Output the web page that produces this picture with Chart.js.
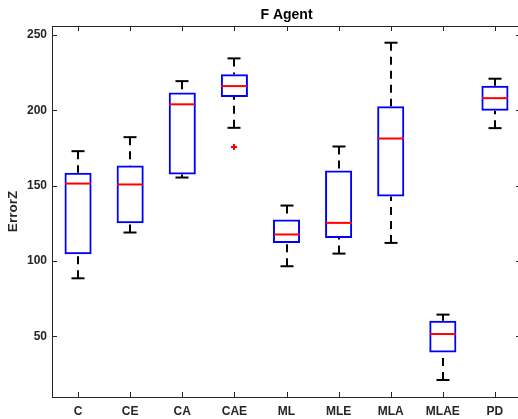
<!DOCTYPE html>
<html><head><meta charset="utf-8">
<script src="https://cdn.jsdelivr.net/npm/chart.js@4.4.0/dist/chart.umd.min.js"></script>
<style>html,body{margin:0;padding:0;background:#fff;overflow:hidden;width:518px;height:419px}
#wrap{width:523px;height:419px}</style></head><body>
<div id="wrap"><canvas id="c" width="523" height="419"></canvas></div>
<script>
const categories = ['C','CE','CA','CAE','ML','MLE','MLA','MLAE','PD'];
const lowerWhisker = [88.5,118.9,155.4,188.4,96.5,104.9,112.0,21.0,188.2];
const q1 = [104.5,125.1,157.4,208.8,112.0,115.3,142.8,39.2,199.7];
const medians = [151.4,150.8,204.0,216.1,117.6,125.3,181.3,51.5,208.1];
const q3 = [158.5,163.4,211.9,223.9,127.5,160.1,202.8,60.4,216.3];
const upperWhisker = [172.9,182.2,219.4,234.5,136.8,176.0,244.9,64.4,221.0];
const outliers = [[],[],[],[175.6],[],[],[],[],[]];
const yTicks = [50,100,150,200,250];
const yMin = 9.7, yMax = 256;

const FONT = '"Liberation Sans", Arial, Helvetica, sans-serif';
const AXIS = '#262626';

const boxParts = {
  id: 'boxParts',
  beforeDatasetsDraw(chart) {
    const {ctx, scales: {x, y}} = chart;
    const unit = x.getPixelForValue(1) - x.getPixelForValue(0);
    const capHalf = unit * 0.125;
    ctx.save();
    ctx.strokeStyle = '#000';
    ctx.lineWidth = 2;
    categories.forEach((c, i) => {
      const px = Math.round(x.getPixelForValue(i));
      ctx.setLineDash([8, 6]);
      ctx.beginPath();
      ctx.moveTo(px, y.getPixelForValue(upperWhisker[i]));
      ctx.lineTo(px, y.getPixelForValue(q3[i]));
      ctx.stroke();
      ctx.beginPath();
      ctx.moveTo(px, y.getPixelForValue(lowerWhisker[i]));
      ctx.lineTo(px, y.getPixelForValue(q1[i]));
      ctx.stroke();
      ctx.setLineDash([]);
      [upperWhisker[i], lowerWhisker[i]].forEach(v => {
        const py = y.getPixelForValue(v);
        ctx.beginPath();
        ctx.moveTo(px - capHalf, py);
        ctx.lineTo(px + capHalf, py);
        ctx.stroke();
      });
    });
    ctx.restore();
  },
  afterDatasetsDraw(chart) {
    const {ctx, scales: {x, y}} = chart;
    const unit = x.getPixelForValue(1) - x.getPixelForValue(0);
    const half = unit * 0.25;
    ctx.save();
    ctx.lineWidth = 2;
    categories.forEach((c, i) => {
      const px = Math.round(x.getPixelForValue(i));
      const pm = y.getPixelForValue(medians[i]);
      ctx.strokeStyle = '#ff0000';
      ctx.beginPath();
      ctx.moveTo(px - half, pm);
      ctx.lineTo(px + half, pm);
      ctx.stroke();
      outliers[i].forEach(v => {
        const po = y.getPixelForValue(v);
        ctx.beginPath();
        ctx.moveTo(px - 3, po); ctx.lineTo(px + 3, po);
        ctx.moveTo(px, po - 3); ctx.lineTo(px, po + 3);
        ctx.stroke();
      });
    });
    ctx.restore();
  },
  afterDraw(chart) {
    const {ctx, chartArea: a, scales: {x, y}} = chart;
    ctx.save();
    ctx.strokeStyle = AXIS;
    ctx.lineWidth = 1;
    ctx.strokeRect(Math.round(a.left) + 0.5, Math.round(a.top) + 0.5, Math.round(a.right - a.left), Math.round(a.bottom - a.top));
    ctx.beginPath();
    categories.forEach((c, i) => {
      const px = Math.round(x.getPixelForValue(i)) + 0.5;
      ctx.moveTo(px, a.bottom); ctx.lineTo(px, a.bottom - 5);
      ctx.moveTo(px, a.top); ctx.lineTo(px, a.top + 5);
    });
    yTicks.forEach(v => {
      const py = Math.round(y.getPixelForValue(v)) + 0.5;
      ctx.moveTo(a.left, py); ctx.lineTo(a.left + 5, py);
      ctx.moveTo(a.right, py); ctx.lineTo(a.right - 5, py);
    });
    ctx.stroke();
    ctx.restore();
  }
};

new Chart(document.getElementById('c'), {
  type: 'bar',
  data: {
    labels: categories,
    datasets: [{
      data: categories.map((c, i) => [q1[i], q3[i]]),
      backgroundColor: 'rgba(0,0,0,0)',
      borderColor: '#0000ff',
      borderWidth: 2,
      borderSkipped: false,
      barPercentage: 0.52,
      categoryPercentage: 1
    }]
  },
  options: {
    responsive: false,
    animation: false,
    layout: {padding: {left: 0, right: 2, top: 0, bottom: 0}},
    plugins: {
      legend: {display: false},
      tooltip: {enabled: false},
      title: {
        display: true,
        text: 'F Agent',
        fullSize: false,
        color: '#000',
        font: {family: FONT, size: 14, weight: 'bold', lineHeight: 1.2},
        padding: {top: 7, bottom: 2.2}
      }
    },
    scales: {
      x: {
        type: 'category',
        offset: true,
        grid: {display: false, drawTicks: false},
        border: {display: false},
        ticks: {color: AXIS, font: {family: FONT, size: 12, weight: 'bold'}, padding: 7, maxRotation: 0, autoSkip: false},
        afterFit(s) { s.height = 22; }
      },
      y: {
        min: yMin,
        max: yMax,
        grid: {display: false, drawTicks: false},
        border: {display: false},
        ticks: {color: AXIS, font: {family: FONT, size: 12, weight: 'bold'}, padding: 5},
        afterBuildTicks(s) { s.ticks = yTicks.map(v => ({value: v})); },
        title: {
          display: true,
          text: 'ErrorZ',
          color: AXIS,
          font: {family: FONT, size: 13.5, weight: 'bold', lineHeight: 1.2},
          padding: {top: 5, bottom: 0}
        },
        afterFit(s) { s.width = 52; }
      }
    }
  },
  plugins: [boxParts]
});
</script>
</body></html>
